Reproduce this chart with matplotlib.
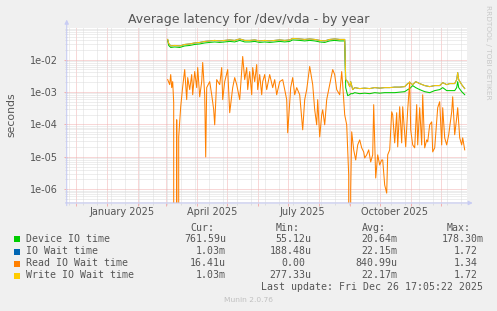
import matplotlib
matplotlib.use("Agg")
import matplotlib.pyplot as plt
import matplotlib.dates as mdates
import matplotlib.ticker as mticker
from matplotlib.transforms import blended_transform_factory
from matplotlib.patches import Rectangle
import numpy as np

# ---------------- data (days counted from 2025-01-01, values in seconds) -------------
top_day = [61, 62, 64, 68, 73, 78, 83, 88, 93, 98, 103, 108, 113, 118, 123, 128, 133,
           138, 143, 148, 153, 158, 163, 168, 173, 178, 183, 186, 193, 198, 203, 208,
           213, 218, 223, 228, 233, 238, 239, 241, 243, 244, 246, 248, 253, 258, 263,
           268, 273, 278, 283, 288, 293, 298, 301, 303, 306, 309, 313, 318, 323, 328,
           333, 336, 340, 343, 348, 350, 351, 352, 355, 358]

write_val = [4.16e-2, 3.13e-2, 2.62e-2, 2.71e-2, 2.62e-2, 2.91e-2, 3.02e-2, 3.24e-2,
             3.36e-2, 3.61e-2, 3.74e-2, 3.88e-2, 3.74e-2, 3.88e-2, 4.02e-2, 3.88e-2,
             4.31e-2, 3.88e-2, 3.88e-2, 4.02e-2, 3.74e-2, 3.88e-2, 3.74e-2, 3.88e-2,
             4.02e-2, 3.88e-2, 4.02e-2, 4.47e-2, 4.31e-2, 4.16e-2, 4.31e-2, 4.16e-2,
             3.88e-2, 3.74e-2, 4.16e-2, 4.31e-2, 4.16e-2, 4.16e-2,
             2.40e-3, 2.08e-3, 1.46e-3, 2.08e-3, 1.18e-3, 1.36e-3, 1.27e-3, 1.31e-3,
             1.27e-3, 1.36e-3, 1.31e-3, 1.36e-3, 1.36e-3, 1.41e-3, 1.41e-3, 1.46e-3,
             1.81e-3, 1.94e-3, 1.68e-3, 2.08e-3, 1.81e-3, 1.57e-3, 1.46e-3, 1.57e-3,
             1.57e-3, 1.94e-3, 1.68e-3, 1.81e-3, 1.81e-3, 2.40e-3, 3.96e-3, 2.40e-3,
             1.68e-3, 1.27e-3]

iowait_val = [4.16e-2, 3.13e-2, 2.62e-2, 2.71e-2, 2.62e-2, 2.91e-2, 3.02e-2, 3.24e-2,
              3.36e-2, 3.61e-2, 3.74e-2, 3.88e-2, 3.74e-2, 3.88e-2, 4.02e-2, 3.88e-2,
              4.31e-2, 3.88e-2, 3.88e-2, 4.02e-2, 3.74e-2, 3.88e-2, 3.74e-2, 3.88e-2,
              4.02e-2, 3.88e-2, 4.02e-2, 4.47e-2, 4.31e-2, 4.16e-2, 4.31e-2, 4.16e-2,
              3.88e-2, 3.74e-2, 4.16e-2, 4.31e-2, 4.16e-2, 4.16e-2,
              2.40e-3, 2.08e-3, 1.46e-3, 2.08e-3, 1.18e-3, 1.36e-3, 1.27e-3, 1.31e-3,
              1.27e-3, 1.36e-3, 1.31e-3, 1.36e-3, 1.36e-3, 1.41e-3, 1.41e-3, 1.46e-3,
              1.81e-3, 1.94e-3, 1.68e-3, 2.08e-3, 1.81e-3, 1.57e-3, 1.46e-3, 1.57e-3,
              1.57e-3, 1.94e-3, 1.68e-3, 1.81e-3, 1.81e-3, 2.40e-3, 3.96e-3, 2.40e-3,
              1.68e-3, 1.27e-3]

device_val = [3.88e-2, 2.71e-2, 2.35e-2, 2.44e-2, 2.35e-2, 2.62e-2, 2.71e-2, 2.91e-2,
              3.02e-2, 3.24e-2, 3.36e-2, 3.48e-2, 3.36e-2, 3.48e-2, 3.61e-2, 3.48e-2,
              3.88e-2, 3.48e-2, 3.48e-2, 3.61e-2, 3.36e-2, 3.48e-2, 3.36e-2, 3.48e-2,
              3.61e-2, 3.48e-2, 3.61e-2, 4.02e-2, 3.88e-2, 3.74e-2, 3.88e-2, 3.74e-2,
              3.48e-2, 3.36e-2, 3.74e-2, 3.88e-2, 3.74e-2, 3.74e-2,
              1.36e-3, 7.68e-4, 8.24e-4, 8.85e-4, 8.85e-4, 9.51e-4, 8.85e-4, 9.18e-4,
              8.85e-4, 9.51e-4, 9.18e-4, 9.51e-4, 9.51e-4, 9.51e-4, 9.86e-4, 1.02e-3,
              1.18e-3, 1.27e-3, 1.57e-3, 1.36e-3, 1.18e-3, 1.02e-3, 9.51e-4, 1.10e-3,
              1.18e-3, 1.36e-3, 1.10e-3, 1.10e-3, 1.10e-3, 1.36e-3, 2.08e-3, 1.36e-3,
              1.02e-3, 8.24e-4]

read_day = [61, 63, 64, 65, 66, 67, 68, 69, 70, 71, 72, 74, 75, 76, 78, 80, 81, 83, 85,
            86, 88, 90, 91, 93, 95, 96, 98, 99, 100, 103, 105, 107, 108, 110, 113, 115,
            116, 118, 121, 123, 126, 128, 130, 133, 136, 138, 140, 141, 143, 145, 146,
            148, 150, 151, 153, 155, 156, 158, 160, 163, 166, 168, 170, 173, 176, 178,
            180, 181, 184, 186, 188, 190, 193, 196, 198, 200, 203, 206, 208, 210, 211,
            213, 215, 216, 218, 220, 223, 226, 228, 230, 233, 235, 236, 238, 240, 242,
            243, 244, 245, 247, 249, 251, 253, 255, 257, 258, 260, 262, 264, 266, 267,
            269, 271, 273, 275, 276, 278, 280, 281, 283, 285, 286, 288, 290, 291, 293,
            295, 296, 299, 301, 303, 304, 306, 308, 310, 311, 313, 315, 316, 318, 320,
            321, 323, 325, 326, 328, 331, 333, 335, 336, 338, 340, 342, 345, 346, 348,
            350, 351, 353, 355, 356, 358]

read_val = [2.4e-3, 1.68e-3, 3.43e-3, 1.36e-3, 2.08e-3, 4.67e-4, 0.0, 0.0, 1.39e-4, 0.0,
            4.1e-5, 3.5e-4, 7.1e-4, 1.46e-3, 4.9e-3, 5.8e-4, 2.77e-3, 1.18e-3, 3.43e-3,
            8.2e-4, 4.25e-3, 1.36e-3, 5.65e-3, 7.1e-4, 2.08e-3, 8.1e-3, 8.2e-4, 9.9e-6,
            1.36e-3, 2.08e-3, 8.2e-4, 2.83e-4, 9.7e-5, 2.4e-3, 1.68e-3, 5.65e-3, 5.8e-4,
            2.08e-3, 4.9e-3, 2.29e-4, 1.36e-3, 2.77e-3, 1.68e-3, 5.8e-4, 1.24e-2, 2.4e-3,
            5.65e-3, 1.18e-3, 4.25e-3, 8.2e-4, 5.65e-3, 2.08e-3, 7.0e-3, 1.18e-3, 3.43e-3,
            8.2e-4, 2.08e-3, 3.43e-3, 1.18e-3, 3.43e-3, 1.36e-3, 2.4e-3, 8.2e-4, 2.08e-3,
            2.4e-3, 1.18e-3, 5.8e-4, 5.5e-5, 1.36e-3, 2.77e-3, 8.2e-4, 1.36e-3, 8.2e-4,
            6.8e-5, 5.8e-4, 1.18e-3, 6.1e-3, 1.68e-3, 2.83e-4, 9.7e-5, 5.8e-4, 4.1e-5,
            1.98e-4, 2.83e-4, 9.7e-5, 5.8e-4, 1.68e-3, 4.9e-3, 3.43e-3, 1.18e-3, 8.2e-4,
            4.25e-3, 1.68e-3, 1.98e-4, 9.7e-5, 2.75e-6, 0.0, 9.4e-7, 5.9e-5, 1.64e-5,
            8.0e-6, 2.33e-5, 3.33e-5, 1.89e-5, 1.42e-5, 9.2e-6, 1.15e-5, 1.64e-5, 6.95e-6,
            1.15e-5, 4.05e-4, 2.22e-6, 1.15e-5, 5.6e-6, 8.0e-6, 8.0e-6, 1.35e-6, 7.6e-7,
            1.15e-5, 1.64e-5, 2.45e-4, 1.98e-4, 2.69e-5, 2.29e-4, 2.03e-5, 3.5e-4, 2.69e-5,
            3.5e-4, 2.03e-5, 2.83e-4, 2.08e-3, 6.8e-5, 2.33e-5, 1.89e-5, 4.05e-4, 2.33e-5,
            3.27e-4, 2.33e-5, 8.2e-4, 1.89e-5, 3.33e-5, 2.89e-5, 9.7e-5, 1.2e-4, 1.42e-5,
            1.89e-5, 3.27e-4, 5.0e-4, 2.33e-5, 3.27e-4, 3.85e-5, 2.33e-5, 4.8e-5, 2.45e-4,
            7.1e-4, 4.8e-5, 1.6e-4, 3.27e-4, 3.85e-5, 2.33e-5, 3.85e-5, 1.64e-5]

series_names = ["Device IO time", "IO Wait time", "Read IO Wait time", "Write IO Wait time"]
series_colors = ["#00CC00", "#0066B3", "#FF8000", "#FFCC00"]
cur_vals = ["761.59u", "1.03m", "16.41u", "1.03m"]
min_vals = ["55.12u", "188.48u", "0.00", "277.33u"]
avg_vals = ["20.64m", "22.15m", "840.99u", "22.17m"]
max_vals = ["178.30m", "1.72", "1.34", "1.72"]

month_labels = ["January 2025", "April 2025", "July 2025", "October 2025"]
month_label_dates = ["2025-01-16", "2025-04-16", "2025-07-16", "2025-10-16"]

title = "Average latency for /dev/vda - by year"
last_update = "Last update: Fri Dec 26 17:05:22 2025"

# ---------------- figure ----------------
W, H = 497, 311
fig = plt.figure(figsize=(W / 100, H / 100), dpi=100, facecolor="#F0F0F0")

L, R, T, B = 66.7, 466.7, 27.5, 203.0
ax = fig.add_axes([L / W, 1 - B / H, (R - L) / W, (B - T) / H])
ax.set_facecolor("white")

base = np.datetime64("2025-01-01")
def to_dates(days):
    return mdates.date2num(base + np.array(days, dtype="timedelta64[D]"))

top_x = to_dates(top_day)
read_x = to_dates(read_day)

lw = 0.75
ax.plot(top_x, device_val, color=series_colors[0], lw=lw, zorder=3)
ax.plot(top_x, iowait_val, color=series_colors[1], lw=lw, zorder=3)
ax.plot(read_x, read_val, color=series_colors[2], lw=lw, zorder=3)
ax.plot(top_x, write_val, color=series_colors[3], lw=lw, zorder=3)

ax.set_yscale("log")
ax.set_ylim(3.77e-7, 0.097)
x0 = mdates.date2num(np.datetime64("2024-11-22"))
ax.set_xlim(x0, x0 + 400)

# grid
ax.yaxis.set_major_locator(mticker.LogLocator(base=10, numticks=20))
ax.yaxis.set_minor_locator(mticker.LogLocator(base=10, subs=np.arange(2, 10), numticks=20))
ax.yaxis.set_major_formatter(mticker.FuncFormatter(lambda v, p: "1e-%02d" % round(-np.log10(v))))
ax.yaxis.set_minor_formatter(mticker.NullFormatter())
ax.xaxis.set_major_locator(mdates.MonthLocator())
ax.xaxis.set_minor_locator(mdates.WeekdayLocator(byweekday=mdates.SU, interval=2))
ax.xaxis.set_major_formatter(mticker.NullFormatter())

ax.grid(which="minor", color="#DCDCDC", lw=0.72, linestyle=(0, (1, 1)), zorder=1)
ax.grid(which="major", color="#F2B0B0", lw=0.72, linestyle=(0, (1, 1)), zorder=1)
ax.set_axisbelow(True)

ax.tick_params(axis="both", which="major", length=2, width=0.72, color="#F2B0B0",
               labelsize=7, labelcolor="#555555", pad=4.5)
ax.tick_params(axis="both", which="minor", length=1.5, width=0.72, color="#DCDCDC")

for s in ax.spines.values():
    s.set_visible(False)

axis_color = "#C8CCF4"
ax.annotate("", xy=(0, 1.045), xytext=(0, -0.015), xycoords="axes fraction",
            arrowprops=dict(arrowstyle="-|>", color=axis_color, lw=0.8,
                            mutation_scale=6, shrinkA=0, shrinkB=0), annotation_clip=False)
ax.annotate("", xy=(1.015, 0), xytext=(-0.003, 0), xycoords="axes fraction",
            arrowprops=dict(arrowstyle="-|>", color=axis_color, lw=0.8,
                            mutation_scale=6, shrinkA=0, shrinkB=0), annotation_clip=False)

# month labels
trans = blended_transform_factory(ax.transData, ax.transAxes)
for lab, d in zip(month_labels, month_label_dates):
    ax.text(mdates.date2num(np.datetime64(d)), -9.3 / (B - T), lab, transform=trans,
            ha="center", va="center", fontsize=7, color="#555555")

def px(x, y):
    return x / W, 1 - y / H

fig.text(*px(248.5, 19), title, ha="center", va="center", fontsize=9, color="#555555")
fig.text(*px(11, 115), "seconds", rotation=90, ha="center", va="center",
         fontsize=7.8, color="#555555")
fig.text(*px(488, 52), "RRDTOOL / TOBI OETIKER", rotation=270, ha="center", va="center",
         fontsize=5.3, color="#C8C8C8")

mono = dict(family="DejaVu Sans Mono", fontsize=7.15, color="#555555", va="center")
hdr_y = 228.3
for lab, xl in zip(["Cur:", "Min:", "Avg:", "Max:"], [190, 275.7, 361.7, 446.7]):
    fig.text(*px(xl, hdr_y), lab, ha="left", **mono)

row_y = [239.3, 251.5, 263.5, 275.5]
col_right = [226, 311.7, 397.3, 483.3]
for i, name in enumerate(series_names):
    y = row_y[i]
    fig.patches.append(Rectangle(px(14, y + 3), 6 / W, 6 / H, transform=fig.transFigure,
                                 facecolor=series_colors[i], edgecolor="none"))
    fig.text(*px(26, y), name, ha="left", **mono)
    for vals, xr in zip([cur_vals, min_vals, avg_vals, max_vals], col_right):
        v = vals[i]
        xx = xr if v[-1].isalpha() else xr - 6.0
        fig.text(*px(xx, y), v, ha="right", **mono)

fig.text(*px(483, 287.3), last_update, ha="right", **mono)
fig.text(*px(248, 300), "Munin 2.0.76", ha="center", va="center", fontsize=5.4,
         color="#C0C0C0")

fig.savefig("out.png", dpi=100, facecolor=fig.get_facecolor())
